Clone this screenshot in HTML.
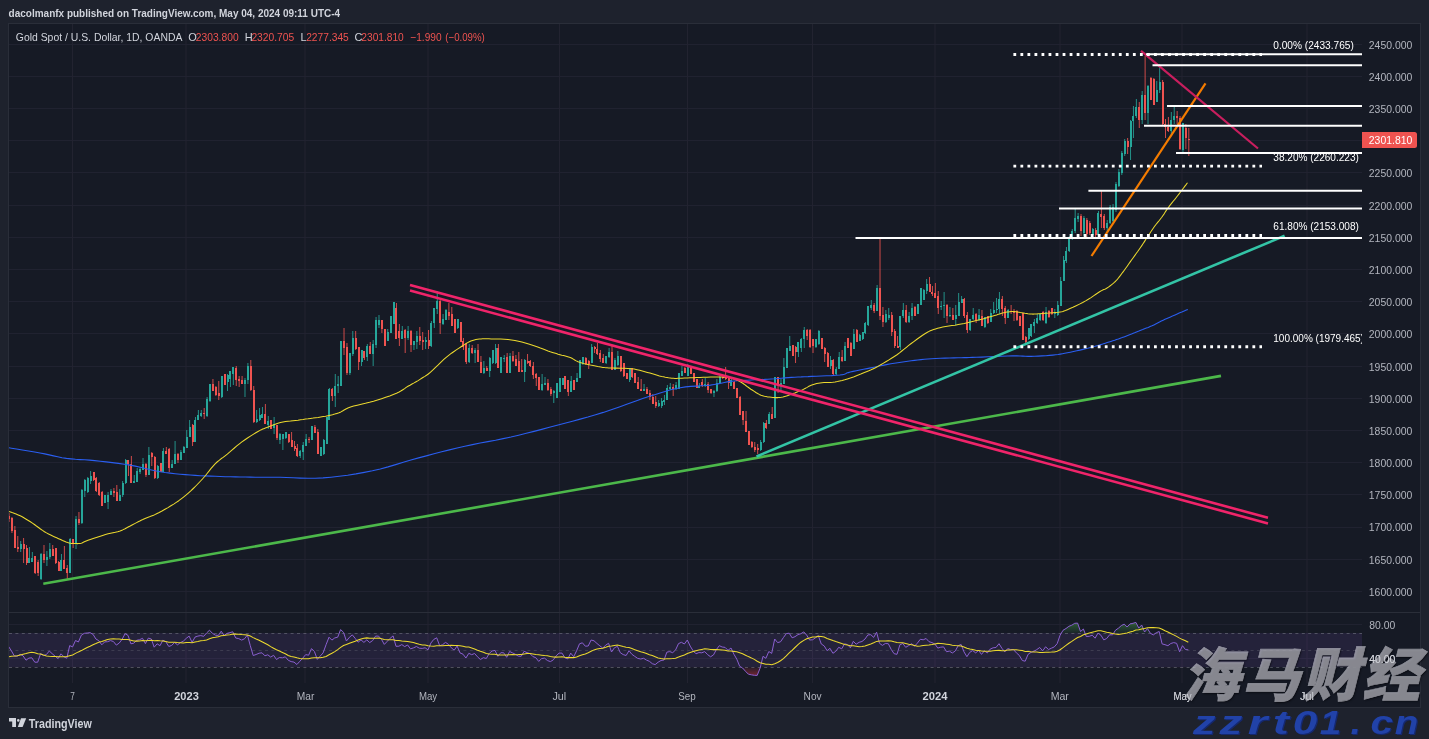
<!DOCTYPE html>
<html><head><meta charset="utf-8"><title>XAUUSD</title>
<style>
html,body{margin:0;padding:0;background:#1e222d;width:1429px;height:739px;overflow:hidden;position:relative;font-family:"Liberation Sans",Arial,sans-serif;}
.hdr{position:absolute;left:9px;top:5px;font-size:12px;color:#d1d4dc;white-space:nowrap;}
.panel{position:absolute;left:8px;top:23px;width:1411px;height:683px;border:1px solid #2a2e39;background:#161a25;}
.leg{position:absolute;left:16px;top:30px;font-size:12px;color:#d1d4dc;white-space:nowrap;}
.leg .r{color:#ef5350}
text{font-family:"Liberation Sans",Arial,sans-serif;}
.fl{font-size:10px;fill:#ffffff;}

.pl{font-size:11px;fill:#b2b5be;}
.tl{font-size:11px;fill:#b2b5be;}
.tl.b{font-weight:bold;fill:#d1d4dc}
.tv{position:absolute;left:29px;top:716px;font-size:12px;color:#d1d4dc;font-weight:bold;}
.wm{position:absolute;left:1187px;top:646.5px;font-family:"Liberation Sans","Noto Sans CJK SC",sans-serif;font-weight:900;font-size:58px;color:#838388;-webkit-text-stroke:0.7px #838388;mix-blend-mode:screen;transform:skewX(-14deg);letter-spacing:2px;white-space:nowrap;line-height:1;}
.wm.ws{color:transparent;-webkit-text-stroke:0;mix-blend-mode:normal;text-shadow:1px 1px 2px rgba(5,7,12,0.9);}
.wu{position:absolute;left:1195px;top:706px;font-family:"Liberation Sans",Arial,sans-serif;font-weight:bold;font-style:italic;font-size:31px;color:#1f43ad;letter-spacing:11px;white-space:nowrap;line-height:1;}
</style></head><body>
<div class="panel"></div>
<svg width="1429" height="739" viewBox="0 0 1429 739" style="position:absolute;left:0;top:0">
<defs><clipPath id="cm"><rect x="9" y="24" width="1353" height="588"/></clipPath><clipPath id="cr"><rect x="9" y="613" width="1353" height="70"/></clipPath></defs>
<path d="M9 591.5H1362 M9 559.5H1362 M9 527.5H1362 M9 494.5H1362 M9 462.5H1362 M9 430.5H1362 M9 398.5H1362 M9 366.5H1362 M9 333.5H1362 M9 301.5H1362 M9 269.5H1362 M9 237.5H1362 M9 205.5H1362 M9 172.5H1362 M9 140.5H1362 M9 108.5H1362 M9 76.5H1362 M9 44.5H1362 M9 624.5H1362 M9 658.5H1362" stroke="#202230" stroke-width="1" fill="none"/>
<path d="M72.5 24V683 M186.0 24V683 M305.0 24V683 M428.0 24V683 M559.5 24V683 M687.5 24V683 M812.5 24V683 M935.0 24V683 M1060.0 24V683 M1182.0 24V683 M1307.0 24V683" stroke="#222330" stroke-width="1" fill="none"/>
<g clip-path="url(#cm)">
<path d="M20.69 541V552M29.43 547V563M32.34 552V562M41.08 553V580M46.9 551V566M49.82 543V559M61.47 554V571M70.21 538V573M76.03 516V549M81.86 489V524M84.77 479V497M87.69 477V493M90.6 471V484M105.16 495V503M108.08 492V509M110.99 489V495M119.73 489V501M122.64 481V497M125.56 459V484M134.29 475V483M137.21 468V482M140.12 467V474M143.03 458V470M148.86 447V475M157.6 465V479M163.42 448V472M172.16 460V468M175.08 441V464M180.9 450V460M183.82 446V453M186.73 430V448M189.64 420V437M195.47 417V442M198.38 410V420M201.29 410V417M207.12 397V417M210.03 384V402M221.68 376V398M227.51 374V391M230.42 371V387M233.34 367V385M244.99 378V397M247.9 363V384M256.64 410V423M259.55 408V421M262.47 407V418M268.29 416V429M274.12 417V434M279.94 433V444M282.86 434V450M285.77 432V439M300.34 450V458M303.25 442V460M306.16 434V446M311.99 426V440M320.73 447V456M323.64 439V455M326.55 417V444M329.47 388V420M335.29 374V407M338.2 376V393M341.12 341V386M349.86 353V375M352.77 331V356M361.51 350V366M367.33 344V361M373.16 340V366M376.07 317V348M378.99 315V328M387.73 329V341M390.64 316V333M393.55 302V324M402.29 326V339M408.12 326V340M413.94 341V350M416.86 331V349M425.59 337V349M431.42 321V347M434.33 308V328M437.25 291V314M443.07 314V325M445.99 309V320M457.64 319V329M469.29 344V363M475.12 348V363M483.85 361V374M489.68 357V377M492.59 350V364M495.51 344V364M501.33 357V373M504.25 355V362M510.07 353V373M524.64 359V382M542.11 374V391M545.03 377V385M553.77 390V403M556.68 383V398M559.59 378V392M562.5 378V385M571.24 376V392M577.07 373V382M579.98 360V378M582.9 357V365M591.63 344V363M606.2 356V364M609.11 348V358M614.94 358V370M617.85 351V366M629.5 368V382M644.07 384V391M658.63 400V407M661.55 398V408M664.46 395V405M667.37 385V400M670.29 383V390M676.11 382V390M679.02 373V389M681.94 366V376M687.76 364V376M699.42 383V388M705.24 378V387M713.98 390V397M716.89 379V392M719.81 376V383M731.46 379V386M760.59 440V451M763.5 422V443M769.33 412V424M775.15 377V418M780.98 379V390M783.89 358V384M786.81 348V368M789.72 336V351M798.46 342V357M801.37 338V352M804.28 327V348M815.94 339V348M818.85 330V345M830.5 356V369M836.33 367V375M839.24 352V369M845.07 342V361M853.8 329V349M859.63 334V341M862.54 332V340M865.46 322V334M868.37 306V326M871.28 300V310M877.11 285V311M885.85 310V323M888.76 308V320M900.41 316V350M903.33 303V318M909.15 312V323M912.07 303V320M917.89 304V314M920.8 288V305M923.72 289V300M926.63 279V294M941.19 301V310M944.11 292V318M949.93 307V317M955.76 305V325M958.67 293V316M961.59 296V303M970.32 319V331M973.24 308V320M979.06 309V321M984.89 317V328M990.72 309V322M993.63 302V314M996.54 298V313M999.45 292V314M1008.19 309V318M1028.59 328V340M1031.5 324V337M1034.41 319V333M1037.32 314V324M1040.24 313V321M1046.06 307V324M1054.8 309V318M1057.71 301V316M1060.63 277V306M1063.54 256V281M1066.45 247V263M1069.37 236V252M1072.28 229V240M1075.19 209V233M1078.11 213V222M1083.93 216V236M1092.67 228V239M1098.5 211V237M1107.24 220V232M1110.15 205V224M1113.06 204V222M1115.97 182V212M1118.89 169V187M1121.8 151V175M1124.71 139V156M1130.54 120V160M1133.45 106V138M1136.37 99V118M1142.19 91V124M1148.02 85V124M1156.76 81V102M1159.67 64V93M1171.32 112V135M1174.23 107V124M1182.97 123V152" stroke="#26a69a" stroke-width="1" fill="none" opacity="0.85"/>
<path d="M9.04 513V522M11.95 517V533M14.86 526V548M17.77 536V552M23.6 538V563M26.51 545V565M35.25 556V574M38.16 560V576M43.99 545V563M52.73 545V556M55.64 548V564M58.56 561V571M64.38 546V569M67.3 565V580M73.12 539V548M78.95 512V525M93.51 472V481M96.42 477V492M99.34 482V496M102.25 491V506M113.9 488V497M116.82 485V501M128.47 460V476M131.38 456V483M145.95 463V477M151.77 452V466M154.68 456V479M160.51 463V472M166.34 447V454M169.25 448V472M177.99 453V463M192.55 424V446M204.21 408V419M212.95 379V391M215.86 386V396M218.77 381V400M224.6 374V385M236.25 366V386M239.16 376V387M242.08 376V384M250.81 360V391M253.73 386V423M265.38 404V424M271.21 420V429M277.03 425V440M288.68 434V443M291.6 432V447M294.51 441V451M297.42 444V457M309.07 437V443M314.9 425V433M317.81 429V454M332.38 388V401M344.03 328V355M346.94 343V375M355.68 331V350M358.6 347V370M364.42 351V360M370.25 342V354M381.9 320V333M384.81 329V346M396.46 303V339M399.38 324V346M405.2 329V353M411.03 330V352M419.77 327V345M422.68 332V350M428.51 330V349M440.16 300V334M448.9 303V320M451.81 307V326M454.72 319V333M460.55 322V342M463.46 338V350M466.38 343V364M472.2 345V354M478.03 344V362M480.94 356V373M486.77 366V371M498.42 344V368M507.16 353V373M512.98 351V362M515.9 355V366M518.81 352V372M521.72 359V372M527.55 354V364M530.46 360V367M533.38 362V379M536.29 373V386M539.2 377V390M547.94 379V391M550.85 387V396M565.42 376V389M568.33 380V396M574.16 380V390M585.81 357V365M588.72 360V369M594.55 346V353M597.46 343V355M600.37 350V362M603.29 354V363M612.03 346V370M620.76 356V372M623.68 363V377M626.59 373V379M632.42 368V378M635.33 373V383M638.24 377V389M641.16 379V391M646.98 387V394M649.89 390V400M652.81 394V404M655.72 396V408M673.2 384V396M684.85 367V373M690.68 368V374M693.59 373V382M696.5 379V388M702.33 379V387M708.15 382V393M711.07 389V394M722.72 375V379M725.63 367V380M728.55 378V389M734.37 381V389M737.28 388V398M740.2 396V415M743.11 411V425M746.02 411V432M748.94 431V445M751.85 441V448M754.76 442V452M757.68 444V454M766.41 420V429M772.24 407V419M778.07 377V393M792.63 345V356M795.54 346V363M807.2 329V340M810.11 329V348M813.02 339V353M821.76 338V349M824.67 347V362M827.59 352V367M833.41 359V375M842.15 350V362M847.98 338V348M850.89 342V356M856.72 329V342M874.2 303V313M880.02 238V320M882.93 307V327M891.67 312V336M894.59 329V348M897.5 336V348M906.24 305V323M914.98 306V316M929.54 277V292M932.46 286V296M935.37 283V298M938.28 291V314M947.02 304V323M952.85 308V320M964.5 298V318M967.41 312V333M976.15 313V323M981.98 310V326M987.8 316V324M1002.37 296V316M1005.28 306V324M1011.11 305V314M1014.02 309V321M1016.93 310V321M1019.85 316V326M1022.76 313V340M1025.67 336V344M1043.15 311V321M1048.98 310V318M1051.89 308V315M1081.02 214V236M1086.85 218V237M1089.76 221V235M1095.58 228V238M1101.41 190V228M1104.32 214V230M1127.63 138V154M1139.28 102V128M1145.11 56V120M1150.93 77V100M1153.84 78V105M1162.58 80V125M1165.5 119V138M1168.41 117V132M1177.15 111V124M1180.06 116V150M1185.89 124V149M1188.8 128V156" stroke="#ef5350" stroke-width="1" fill="none" opacity="0.85"/>
<path d="M20 544h2V549h-2ZM28 558h2V563h-2ZM31 558h2V562h-2ZM40 554h2V579h-2ZM46 557h2V560h-2ZM49 549h2V557h-2ZM60 560h2V571h-2ZM69 539h2V573h-2ZM75 519h2V543h-2ZM81 490h2V523h-2ZM84 480h2V491h-2ZM87 478h2V492h-2ZM90 476h2V481h-2ZM104 495h2V503h-2ZM107 495h2V502h-2ZM110 491h2V495h-2ZM119 495h2V501h-2ZM122 483h2V495h-2ZM125 460h2V483h-2ZM133 481h2V483h-2ZM136 471h2V482h-2ZM139 469h2V472h-2ZM142 464h2V470h-2ZM148 455h2V475h-2ZM157 466h2V478h-2ZM162 451h2V472h-2ZM171 464h2V468h-2ZM174 454h2V464h-2ZM180 452h2V460h-2ZM183 447h2V453h-2ZM186 437h2V448h-2ZM189 427h2V437h-2ZM194 420h2V442h-2ZM197 415h2V420h-2ZM200 413h2V416h-2ZM206 399h2V416h-2ZM209 384h2V401h-2ZM221 376h2V397h-2ZM227 375h2V382h-2ZM229 371h2V379h-2ZM232 367h2V374h-2ZM244 380h2V384h-2ZM247 366h2V380h-2ZM256 419h2V422h-2ZM259 415h2V420h-2ZM261 414h2V418h-2ZM267 421h2V425h-2ZM273 424h2V428h-2ZM279 434h2V440h-2ZM282 434h2V439h-2ZM285 432h2V438h-2ZM299 451h2V456h-2ZM302 445h2V452h-2ZM305 439h2V446h-2ZM311 426h2V440h-2ZM320 447h2V456h-2ZM323 440h2V454h-2ZM326 417h2V444h-2ZM328 389h2V420h-2ZM334 386h2V396h-2ZM337 384h2V386h-2ZM340 341h2V386h-2ZM349 353h2V373h-2ZM352 338h2V354h-2ZM361 350h2V362h-2ZM366 346h2V357h-2ZM372 344h2V354h-2ZM375 320h2V345h-2ZM378 320h2V325h-2ZM387 332h2V341h-2ZM390 316h2V333h-2ZM393 302h2V324h-2ZM401 331h2V339h-2ZM407 331h2V338h-2ZM413 341h2V345h-2ZM416 336h2V342h-2ZM425 340h2V342h-2ZM430 323h2V346h-2ZM433 308h2V323h-2ZM436 301h2V309h-2ZM442 319h2V324h-2ZM445 310h2V320h-2ZM457 319h2V328h-2ZM468 348h2V362h-2ZM474 350h2V353h-2ZM483 368h2V373h-2ZM489 358h2V371h-2ZM492 350h2V363h-2ZM495 348h2V363h-2ZM500 357h2V373h-2ZM503 358h2V359h-2ZM509 356h2V373h-2ZM524 360h2V372h-2ZM541 384h2V390h-2ZM544 383h2V385h-2ZM553 391h2V393h-2ZM556 383h2V398h-2ZM559 378h2V392h-2ZM562 378h2V385h-2ZM570 381h2V392h-2ZM576 378h2V382h-2ZM579 360h2V378h-2ZM582 357h2V364h-2ZM591 347h2V363h-2ZM605 356h2V363h-2ZM608 352h2V357h-2ZM614 360h2V370h-2ZM617 356h2V365h-2ZM629 368h2V380h-2ZM643 389h2V391h-2ZM658 403h2V406h-2ZM661 401h2V406h-2ZM663 400h2V402h-2ZM666 388h2V400h-2ZM669 387h2V389h-2ZM675 385h2V389h-2ZM678 373h2V389h-2ZM681 371h2V376h-2ZM687 365h2V376h-2ZM698 386h2V388h-2ZM704 384h2V386h-2ZM713 391h2V393h-2ZM716 383h2V391h-2ZM719 377h2V383h-2ZM730 380h2V386h-2ZM760 442h2V450h-2ZM763 423h2V442h-2ZM768 414h2V424h-2ZM774 377h2V418h-2ZM780 383h2V386h-2ZM783 367h2V384h-2ZM786 348h2V368h-2ZM789 346h2V351h-2ZM797 342h2V352h-2ZM800 339h2V348h-2ZM803 330h2V339h-2ZM815 339h2V347h-2ZM818 331h2V344h-2ZM830 360h2V366h-2ZM835 369h2V374h-2ZM838 357h2V369h-2ZM844 346h2V361h-2ZM853 334h2V349h-2ZM859 335h2V341h-2ZM862 332h2V339h-2ZM864 323h2V333h-2ZM867 306h2V325h-2ZM870 305h2V308h-2ZM876 288h2V311h-2ZM885 314h2V322h-2ZM888 315h2V318h-2ZM899 316h2V347h-2ZM902 310h2V316h-2ZM908 316h2V322h-2ZM911 308h2V316h-2ZM917 304h2V314h-2ZM920 288h2V305h-2ZM923 290h2V300h-2ZM926 284h2V291h-2ZM940 306h2V307h-2ZM943 305h2V306h-2ZM949 315h2V316h-2ZM955 315h2V319h-2ZM958 302h2V316h-2ZM961 299h2V303h-2ZM969 319h2V330h-2ZM972 315h2V319h-2ZM978 315h2V320h-2ZM984 317h2V327h-2ZM990 313h2V322h-2ZM993 310h2V313h-2ZM996 309h2V310h-2ZM998 299h2V309h-2ZM1007 310h2V318h-2ZM1028 328h2V339h-2ZM1030 324h2V336h-2ZM1033 322h2V326h-2ZM1036 318h2V323h-2ZM1039 314h2V320h-2ZM1045 312h2V323h-2ZM1054 312h2V314h-2ZM1057 305h2V315h-2ZM1060 281h2V306h-2ZM1063 260h2V281h-2ZM1065 251h2V261h-2ZM1068 238h2V251h-2ZM1071 231h2V238h-2ZM1074 218h2V231h-2ZM1077 216h2V219h-2ZM1083 218h2V233h-2ZM1092 229h2V235h-2ZM1097 213h2V235h-2ZM1106 223h2V228h-2ZM1109 207h2V223h-2ZM1112 207h2V221h-2ZM1115 184h2V210h-2ZM1118 172h2V186h-2ZM1121 153h2V173h-2ZM1124 141h2V154h-2ZM1130 121h2V147h-2ZM1132 116h2V121h-2ZM1135 107h2V116h-2ZM1141 95h2V120h-2ZM1147 86h2V113h-2ZM1156 90h2V102h-2ZM1159 82h2V90h-2ZM1170 120h2V131h-2ZM1173 116h2V120h-2ZM1182 123h2V150h-2Z" fill="#26a69a" shape-rendering="crispEdges"/>
<path d="M8 516h2V519h-2ZM11 518h2V531h-2ZM14 530h2V548h-2ZM17 547h2V549h-2ZM23 544h2V549h-2ZM26 548h2V563h-2ZM34 556h2V573h-2ZM37 562h2V573h-2ZM43 554h2V560h-2ZM52 549h2V556h-2ZM55 548h2V563h-2ZM58 562h2V571h-2ZM63 560h2V569h-2ZM66 568h2V573h-2ZM72 539h2V543h-2ZM78 519h2V523h-2ZM93 472h2V480h-2ZM95 478h2V491h-2ZM98 483h2V495h-2ZM101 492h2V506h-2ZM113 491h2V493h-2ZM116 492h2V501h-2ZM127 460h2V464h-2ZM130 464h2V483h-2ZM145 464h2V475h-2ZM151 453h2V457h-2ZM154 457h2V478h-2ZM160 463h2V472h-2ZM165 451h2V454h-2ZM168 449h2V468h-2ZM177 454h2V460h-2ZM192 425h2V442h-2ZM203 413h2V414h-2ZM212 384h2V391h-2ZM215 387h2V395h-2ZM218 393h2V396h-2ZM224 374h2V385h-2ZM235 368h2V380h-2ZM238 379h2V381h-2ZM241 380h2V384h-2ZM250 366h2V390h-2ZM253 390h2V422h-2ZM264 414h2V424h-2ZM270 420h2V429h-2ZM276 425h2V438h-2ZM288 434h2V442h-2ZM291 440h2V447h-2ZM294 446h2V449h-2ZM296 448h2V456h-2ZM308 439h2V440h-2ZM314 427h2V433h-2ZM317 432h2V454h-2ZM331 389h2V396h-2ZM343 341h2V348h-2ZM346 347h2V373h-2ZM355 338h2V349h-2ZM358 347h2V362h-2ZM363 351h2V358h-2ZM369 346h2V354h-2ZM381 320h2V329h-2ZM384 329h2V346h-2ZM395 308h2V339h-2ZM398 331h2V338h-2ZM404 330h2V338h-2ZM410 331h2V345h-2ZM419 336h2V341h-2ZM422 340h2V342h-2ZM428 340h2V346h-2ZM439 301h2V323h-2ZM448 312h2V316h-2ZM451 314h2V326h-2ZM454 319h2V333h-2ZM460 322h2V342h-2ZM462 341h2V347h-2ZM465 344h2V362h-2ZM471 348h2V353h-2ZM477 350h2V362h-2ZM480 362h2V373h-2ZM486 368h2V371h-2ZM497 348h2V368h-2ZM506 357h2V373h-2ZM512 356h2V361h-2ZM515 359h2V366h-2ZM518 361h2V372h-2ZM521 370h2V372h-2ZM527 361h2V363h-2ZM529 361h2V366h-2ZM532 366h2V375h-2ZM535 374h2V378h-2ZM538 377h2V390h-2ZM547 383h2V390h-2ZM550 389h2V394h-2ZM564 376h2V389h-2ZM567 380h2V392h-2ZM573 380h2V390h-2ZM585 358h2V364h-2ZM588 361h2V364h-2ZM594 347h2V349h-2ZM596 349h2V354h-2ZM599 353h2V359h-2ZM602 358h2V363h-2ZM611 352h2V370h-2ZM620 356h2V371h-2ZM623 363h2V376h-2ZM626 373h2V379h-2ZM631 368h2V377h-2ZM634 373h2V383h-2ZM637 382h2V389h-2ZM640 389h2V391h-2ZM646 389h2V394h-2ZM649 393h2V397h-2ZM652 397h2V404h-2ZM655 402h2V406h-2ZM672 387h2V389h-2ZM684 368h2V373h-2ZM690 368h2V374h-2ZM693 373h2V382h-2ZM696 379h2V388h-2ZM701 382h2V386h-2ZM707 384h2V390h-2ZM710 389h2V393h-2ZM722 377h2V378h-2ZM725 377h2V379h-2ZM728 378h2V383h-2ZM733 382h2V389h-2ZM736 388h2V398h-2ZM739 397h2V415h-2ZM742 411h2V420h-2ZM745 421h2V432h-2ZM748 431h2V445h-2ZM751 442h2V447h-2ZM754 447h2V450h-2ZM757 448h2V450h-2ZM765 423h2V428h-2ZM771 414h2V419h-2ZM777 377h2V386h-2ZM792 345h2V356h-2ZM795 347h2V352h-2ZM806 330h2V336h-2ZM809 330h2V347h-2ZM812 339h2V346h-2ZM821 338h2V349h-2ZM824 348h2V354h-2ZM827 353h2V367h-2ZM832 360h2V374h-2ZM841 357h2V361h-2ZM847 338h2V348h-2ZM850 343h2V356h-2ZM856 330h2V342h-2ZM873 305h2V311h-2ZM879 288h2V316h-2ZM882 315h2V322h-2ZM891 315h2V332h-2ZM894 331h2V346h-2ZM897 346h2V348h-2ZM905 310h2V322h-2ZM914 307h2V316h-2ZM929 284h2V292h-2ZM931 292h2V294h-2ZM934 293h2V298h-2ZM937 296h2V308h-2ZM946 305h2V316h-2ZM952 315h2V320h-2ZM963 299h2V316h-2ZM966 315h2V330h-2ZM975 314h2V321h-2ZM981 316h2V326h-2ZM987 316h2V323h-2ZM1001 299h2V309h-2ZM1004 308h2V318h-2ZM1010 311h2V312h-2ZM1013 312h2V313h-2ZM1016 311h2V320h-2ZM1019 316h2V326h-2ZM1022 313h2V340h-2ZM1025 337h2V342h-2ZM1042 312h2V320h-2ZM1048 311h2V317h-2ZM1051 308h2V314h-2ZM1080 216h2V231h-2ZM1086 220h2V234h-2ZM1089 223h2V233h-2ZM1095 230h2V235h-2ZM1100 214h2V217h-2ZM1103 216h2V228h-2ZM1127 141h2V147h-2ZM1138 107h2V120h-2ZM1144 95h2V113h-2ZM1150 78h2V100h-2ZM1153 79h2V105h-2ZM1162 82h2V124h-2ZM1164 124h2V127h-2ZM1167 127h2V131h-2ZM1176 116h2V118h-2ZM1179 118h2V149h-2ZM1185 128h2V138h-2ZM1188 139h2V140h-2Z" fill="#ef5350" shape-rendering="crispEdges"/>
<path d="M8.0 447.6 L11.5 448.2 L16.5 449.0 L22.3 450.0 L28.6 451.0 L34.6 452.0 L40.0 453.0 L44.7 453.9 L49.2 454.9 L53.5 455.9 L57.7 456.8 L62.0 457.7 L66.5 458.4 L71.0 458.9 L75.5 459.3 L80.1 459.6 L84.7 459.8 L89.6 460.1 L94.7 460.6 L100.2 461.2 L106.1 461.9 L112.2 462.6 L118.4 463.4 L124.3 464.2 L130.0 465.1 L135.3 466.1 L140.4 467.3 L145.4 468.5 L150.3 469.7 L155.1 470.8 L160.1 471.7 L165.1 472.5 L170.1 473.1 L175.1 473.7 L180.2 474.2 L185.2 474.6 L190.2 475.0 L195.2 475.4 L200.2 475.7 L205.2 475.9 L210.3 476.1 L215.3 476.3 L220.3 476.5 L225.3 476.7 L230.4 476.8 L235.4 476.9 L240.4 477.0 L245.4 477.0 L250.4 477.1 L255.2 477.2 L259.8 477.2 L264.4 477.2 L269.2 477.2 L274.3 477.2 L280.0 477.3 L286.3 477.5 L293.1 477.8 L300.3 478.1 L307.8 478.3 L315.4 478.2 L323.1 477.9 L331.0 477.2 L339.2 476.3 L347.6 475.2 L356.0 473.9 L364.3 472.4 L372.4 470.8 L380.3 469.0 L388.0 466.9 L395.7 464.6 L403.3 462.3 L410.9 460.0 L418.6 457.9 L426.3 455.9 L434.0 453.8 L441.7 451.8 L449.4 449.9 L457.1 448.0 L464.8 446.2 L472.5 444.6 L480.2 443.0 L487.9 441.6 L495.5 440.2 L503.2 438.6 L510.9 437.0 L518.6 435.2 L526.3 433.3 L534.0 431.4 L541.7 429.4 L549.4 427.3 L557.1 425.3 L564.8 423.3 L572.5 421.2 L580.2 419.1 L587.9 417.0 L595.6 414.7 L603.3 412.4 L611.2 409.8 L619.3 407.0 L627.4 404.1 L635.2 401.2 L642.7 398.6 L649.5 396.3 L655.5 394.4 L660.9 392.7 L665.9 391.2 L670.7 389.8 L675.4 388.7 L680.3 387.7 L685.5 386.9 L690.7 386.4 L696.0 386.1 L701.0 385.8 L705.9 385.5 L710.3 385.1 L714.2 384.5 L717.8 383.9 L721.1 383.2 L724.2 382.5 L727.3 381.9 L730.6 381.4 L734.0 381.0 L737.4 380.7 L740.8 380.5 L744.1 380.4 L747.5 380.2 L750.9 380.0 L754.3 379.8 L757.7 379.7 L761.0 379.5 L764.4 379.4 L767.8 379.2 L771.2 379.0 L774.6 378.8 L778.0 378.5 L781.4 378.2 L784.7 377.9 L788.1 377.6 L791.5 377.4 L794.8 377.2 L798.0 377.0 L801.2 376.9 L804.4 376.7 L808.0 376.6 L811.8 376.4 L816.2 376.2 L821.3 376.0 L826.5 375.8 L831.6 375.6 L836.2 375.3 L840.0 375.0 L842.6 374.6 L844.4 374.2 L845.6 373.7 L846.8 373.1 L848.2 372.6 L850.3 372.0 L853.1 371.4 L856.3 370.7 L859.8 370.0 L863.5 369.3 L867.1 368.6 L870.6 367.9 L874.0 367.2 L877.4 366.5 L880.8 365.8 L884.1 365.1 L887.5 364.4 L890.9 363.8 L894.3 363.2 L897.7 362.7 L901.0 362.2 L904.4 361.7 L907.8 361.2 L911.2 360.8 L914.5 360.4 L917.7 360.0 L921.0 359.6 L924.3 359.3 L927.8 359.0 L931.5 358.7 L935.7 358.5 L940.2 358.3 L944.9 358.1 L949.5 358.0 L954.0 357.9 L958.0 357.8 L961.3 357.7 L964.1 357.6 L966.6 357.6 L969.2 357.5 L972.4 357.4 L976.4 357.3 L981.6 357.1 L987.9 356.8 L994.6 356.5 L1001.3 356.3 L1007.6 356.0 L1012.8 355.9 L1016.8 355.9 L1020.1 356.0 L1022.8 356.1 L1025.3 356.3 L1028.0 356.4 L1031.0 356.4 L1034.5 356.3 L1038.3 356.1 L1042.1 355.9 L1045.9 355.7 L1049.5 355.4 L1052.8 355.1 L1055.6 354.8 L1058.1 354.5 L1060.3 354.1 L1062.5 353.7 L1064.8 353.3 L1067.4 352.8 L1070.3 352.2 L1073.5 351.5 L1076.8 350.8 L1080.0 350.1 L1083.0 349.4 L1085.6 348.8 L1087.8 348.3 L1089.6 347.8 L1091.2 347.4 L1092.8 346.9 L1094.3 346.5 L1096.0 346.0 L1097.8 345.5 L1099.7 344.9 L1101.6 344.4 L1103.4 343.8 L1105.3 343.2 L1107.2 342.6 L1109.1 342.0 L1110.9 341.4 L1112.8 340.8 L1114.7 340.2 L1116.5 339.5 L1118.4 338.9 L1120.3 338.2 L1122.1 337.6 L1124.0 336.9 L1125.9 336.2 L1127.7 335.5 L1129.6 334.8 L1131.5 334.1 L1133.3 333.3 L1135.2 332.6 L1137.1 331.8 L1138.9 331.1 L1140.8 330.3 L1142.7 329.6 L1144.5 328.8 L1146.4 328.1 L1148.3 327.4 L1150.1 326.6 L1152.0 325.8 L1153.9 324.9 L1155.7 324.0 L1157.6 323.0 L1159.5 322.1 L1161.3 321.1 L1163.2 320.2 L1165.0 319.3 L1166.9 318.5 L1168.7 317.7 L1170.5 316.9 L1172.4 316.1 L1174.4 315.2 L1176.7 314.2 L1179.2 313.1 L1181.8 312.0 L1184.2 310.9 L1186.3 310.0 L1187.8 309.4" stroke="#2a5ef0" stroke-width="1.1" fill="none" stroke-linejoin="round"/>
<path d="M8.0 511.5 L8.0 511.5 L7.9 511.4 L7.9 511.3 L8.0 511.3 L8.4 511.3 L9.2 511.6 L10.5 512.0 L12.1 512.6 L14.0 513.2 L16.1 514.0 L18.2 514.9 L20.2 515.8 L22.2 516.8 L24.2 518.0 L26.2 519.2 L28.3 520.5 L30.4 521.8 L32.4 523.1 L34.4 524.5 L36.4 526.0 L38.5 527.5 L40.5 529.0 L42.5 530.4 L44.5 531.7 L46.5 532.9 L48.6 534.0 L50.7 535.0 L52.7 536.0 L54.7 536.9 L56.7 537.8 L58.6 538.7 L60.6 539.6 L62.5 540.5 L64.4 541.3 L66.1 542.0 L67.7 542.6 L69.1 543.0 L70.5 543.2 L71.7 543.4 L72.8 543.4 L73.9 543.5 L75.0 543.5 L76.1 543.5 L77.1 543.6 L78.0 543.6 L79.0 543.5 L80.0 543.4 L81.0 543.2 L82.0 542.9 L82.9 542.5 L83.8 542.1 L84.9 541.6 L86.2 541.0 L88.0 540.3 L90.3 539.5 L93.2 538.5 L96.3 537.4 L99.5 536.4 L102.6 535.4 L105.5 534.5 L108.1 533.8 L110.6 533.3 L113.0 532.8 L115.3 532.3 L117.7 531.7 L120.1 530.9 L122.6 529.9 L125.1 528.7 L127.7 527.3 L130.2 526.0 L132.5 524.7 L134.7 523.6 L136.6 522.6 L138.2 521.8 L139.8 521.0 L141.2 520.2 L142.8 519.5 L144.5 518.7 L146.3 517.9 L148.2 517.2 L150.1 516.6 L152.1 515.8 L154.3 514.9 L156.6 513.8 L159.2 512.5 L162.0 511.0 L165.0 509.3 L168.0 507.6 L170.9 505.8 L173.7 504.1 L176.3 502.4 L178.8 500.7 L181.2 498.9 L183.5 497.1 L185.9 495.2 L188.3 493.1 L190.8 490.9 L193.3 488.5 L195.8 486.0 L198.2 483.5 L200.6 481.0 L202.9 478.5 L205.1 476.0 L207.1 473.5 L209.2 470.9 L211.1 468.4 L213.1 466.1 L215.1 463.9 L217.1 462.0 L219.1 460.4 L221.0 458.8 L223.1 457.4 L225.1 455.8 L227.3 454.1 L229.6 452.2 L231.9 450.1 L234.4 448.0 L236.8 445.9 L239.4 443.9 L241.9 441.9 L244.6 440.0 L247.5 438.0 L250.4 436.1 L253.2 434.4 L255.8 432.8 L258.0 431.5 L259.6 430.6 L260.8 429.9 L261.8 429.5 L262.7 429.1 L263.8 428.7 L265.4 428.1 L267.5 427.3 L269.9 426.3 L272.5 425.3 L275.2 424.3 L277.9 423.3 L280.5 422.6 L283.0 422.1 L285.5 421.6 L288.0 421.3 L290.5 421.1 L293.0 420.8 L295.5 420.5 L298.0 420.2 L300.5 419.8 L303.1 419.5 L305.6 419.1 L308.1 418.8 L310.6 418.4 L313.1 418.1 L315.7 417.7 L318.2 417.4 L320.7 417.0 L323.2 416.6 L325.6 416.2 L327.9 415.7 L330.3 415.2 L332.5 414.7 L334.7 414.1 L336.9 413.4 L339.0 412.7 L340.9 411.9 L342.5 411.0 L344.1 410.0 L345.9 409.0 L347.9 408.0 L350.5 407.0 L353.7 406.1 L357.3 405.2 L361.3 404.2 L365.4 403.3 L369.5 402.3 L373.5 401.2 L377.5 400.0 L381.6 398.7 L385.7 397.3 L389.7 395.9 L393.3 394.5 L396.5 393.2 L399.1 392.0 L401.2 390.8 L402.9 389.7 L404.6 388.6 L406.2 387.4 L408.0 386.3 L410.0 385.2 L412.0 384.0 L414.1 382.9 L416.1 381.7 L418.1 380.6 L420.0 379.4 L421.7 378.3 L423.3 377.3 L424.9 376.4 L426.5 375.3 L428.3 374.0 L430.3 372.3 L432.7 370.2 L435.3 367.6 L438.2 364.9 L441.0 362.1 L443.8 359.4 L446.5 357.1 L449.0 355.1 L451.5 353.2 L454.0 351.5 L456.3 349.9 L458.6 348.4 L460.7 347.0 L462.6 345.7 L464.4 344.6 L466.1 343.5 L467.7 342.6 L469.3 341.7 L470.9 341.0 L472.6 340.4 L474.3 339.9 L475.9 339.6 L477.6 339.3 L479.3 339.1 L481.0 338.9 L482.6 338.8 L484.0 338.7 L485.5 338.7 L487.0 338.7 L488.9 338.8 L491.2 338.9 L494.0 339.0 L497.2 339.0 L500.7 339.1 L504.4 339.2 L508.0 339.5 L511.5 339.9 L514.9 340.5 L518.4 341.3 L521.9 342.1 L525.3 343.1 L528.7 344.1 L531.8 345.0 L534.8 346.0 L537.7 347.0 L540.4 348.1 L543.1 349.1 L545.6 350.1 L548.0 351.0 L550.3 351.8 L552.4 352.4 L554.4 353.0 L556.3 353.6 L558.1 354.2 L560.0 354.7 L561.8 355.2 L563.6 355.6 L565.3 356.0 L566.9 356.4 L568.6 356.9 L570.3 357.5 L571.9 358.2 L573.3 359.1 L574.7 360.0 L576.3 360.9 L578.1 361.8 L580.4 362.6 L583.3 363.4 L586.8 364.2 L590.5 365.1 L594.3 365.8 L597.8 366.5 L600.7 367.0 L602.9 367.4 L604.5 367.6 L605.8 367.7 L607.1 367.8 L608.7 367.9 L610.9 368.0 L613.7 368.1 L617.1 368.1 L620.7 368.2 L624.4 368.3 L627.9 368.4 L631.2 368.7 L634.2 369.1 L637.0 369.7 L639.7 370.3 L642.3 371.0 L644.9 371.7 L647.4 372.4 L649.9 373.1 L652.4 373.8 L654.9 374.5 L657.2 375.2 L659.5 375.9 L661.6 376.4 L663.5 376.8 L665.3 377.2 L667.0 377.5 L668.5 377.8 L670.1 378.0 L671.8 378.2 L673.4 378.3 L674.9 378.4 L676.4 378.4 L678.0 378.3 L679.8 378.3 L682.0 378.2 L684.5 378.1 L687.3 378.0 L690.4 377.8 L693.5 377.7 L696.8 377.5 L700.0 377.4 L703.4 377.3 L707.0 377.2 L710.7 377.1 L714.3 377.0 L717.6 377.0 L720.4 377.0 L722.7 377.1 L724.6 377.1 L726.1 377.2 L727.6 377.4 L729.0 377.6 L730.6 378.0 L732.3 378.5 L734.0 379.0 L735.7 379.6 L737.3 380.3 L739.0 381.1 L740.7 382.0 L742.4 383.0 L744.1 384.2 L745.8 385.5 L747.5 386.8 L749.2 388.0 L750.9 389.2 L752.6 390.3 L754.3 391.4 L755.9 392.5 L757.6 393.5 L759.3 394.4 L761.0 395.2 L762.7 395.8 L764.4 396.3 L766.1 396.6 L767.8 396.9 L769.5 397.1 L771.2 397.3 L772.9 397.5 L774.6 397.6 L776.3 397.6 L777.9 397.6 L779.6 397.5 L781.3 397.3 L783.0 397.0 L784.7 396.5 L786.4 396.0 L788.1 395.4 L789.8 394.8 L791.5 394.2 L793.2 393.6 L794.9 393.0 L796.5 392.3 L798.2 391.6 L799.9 390.9 L801.6 390.2 L803.3 389.4 L805.0 388.5 L806.7 387.6 L808.4 386.6 L810.1 385.8 L811.8 385.1 L813.5 384.5 L815.1 384.0 L816.7 383.6 L818.4 383.3 L820.1 383.0 L822.0 382.7 L824.0 382.5 L826.0 382.5 L828.2 382.4 L830.4 382.4 L832.7 382.3 L835.0 382.0 L837.4 381.6 L839.7 381.1 L842.2 380.5 L844.7 379.8 L847.4 378.9 L850.3 378.0 L853.5 376.9 L857.1 375.5 L860.8 374.1 L864.4 372.6 L867.7 371.2 L870.6 370.0 L872.8 369.0 L874.5 368.2 L875.9 367.5 L877.3 366.8 L878.8 365.9 L880.7 364.8 L883.1 363.4 L885.8 361.8 L888.6 360.1 L891.5 358.3 L894.3 356.5 L897.0 354.7 L899.5 352.9 L901.8 351.0 L904.1 349.2 L906.4 347.3 L908.7 345.4 L911.2 343.5 L913.8 341.6 L916.6 339.5 L919.4 337.5 L922.2 335.5 L924.9 333.8 L927.4 332.3 L929.6 331.1 L931.7 330.2 L933.6 329.5 L935.5 328.9 L937.6 328.3 L940.0 327.7 L942.7 327.1 L945.7 326.6 L948.8 326.1 L951.9 325.6 L955.1 325.2 L958.2 324.6 L961.2 324.0 L964.3 323.4 L967.3 322.7 L970.3 322.0 L973.4 321.3 L976.4 320.6 L979.5 319.8 L982.8 318.9 L986.1 318.0 L989.2 317.1 L992.1 316.2 L994.6 315.5 L996.6 314.9 L998.3 314.3 L999.7 313.9 L1001.0 313.4 L1002.3 313.0 L1003.7 312.7 L1005.2 312.4 L1006.7 312.1 L1008.2 311.9 L1009.8 311.7 L1011.3 311.5 L1012.8 311.5 L1014.3 311.6 L1015.8 311.7 L1017.3 311.9 L1018.9 312.2 L1020.4 312.5 L1021.9 312.7 L1023.4 312.9 L1024.9 313.2 L1026.5 313.4 L1028.0 313.7 L1029.5 313.9 L1031.0 314.0 L1032.4 314.1 L1033.7 314.1 L1035.0 314.0 L1036.4 313.9 L1038.1 313.8 L1040.1 313.7 L1042.7 313.5 L1045.8 313.3 L1049.2 313.1 L1052.6 312.8 L1055.7 312.5 L1058.3 312.2 L1060.2 311.9 L1061.7 311.7 L1062.9 311.4 L1064.0 311.0 L1065.5 310.5 L1067.4 309.7 L1070.0 308.6 L1072.9 307.3 L1076.2 305.7 L1079.5 304.1 L1082.7 302.5 L1085.6 300.9 L1088.3 299.3 L1091.0 297.6 L1093.5 295.9 L1095.9 294.2 L1098.1 292.7 L1100.0 291.5 L1101.6 290.6 L1102.8 290.0 L1103.8 289.6 L1104.8 289.2 L1105.8 288.7 L1107.0 288.0 L1108.4 287.1 L1109.9 286.0 L1111.4 284.8 L1112.9 283.6 L1114.4 282.3 L1115.8 281.0 L1117.1 279.7 L1118.2 278.3 L1119.3 276.9 L1120.5 275.4 L1121.6 273.8 L1122.9 272.1 L1124.3 270.2 L1125.7 268.3 L1127.2 266.2 L1128.7 264.0 L1130.2 261.9 L1131.7 259.8 L1133.2 257.7 L1134.7 255.6 L1136.2 253.5 L1137.7 251.5 L1139.1 249.5 L1140.5 247.5 L1141.8 245.6 L1143.0 243.8 L1144.1 242.1 L1145.2 240.4 L1146.3 238.6 L1147.5 236.9 L1148.7 235.1 L1149.9 233.3 L1151.0 231.5 L1152.2 229.7 L1153.4 228.0 L1154.6 226.3 L1155.8 224.7 L1156.9 223.3 L1158.1 221.9 L1159.3 220.5 L1160.4 219.0 L1161.6 217.5 L1162.8 215.8 L1164.0 214.1 L1165.1 212.3 L1166.3 210.4 L1167.5 208.7 L1168.7 207.0 L1169.9 205.4 L1171.1 203.9 L1172.3 202.4 L1173.4 201.0 L1174.6 199.6 L1175.7 198.2 L1176.8 196.8 L1177.8 195.5 L1178.9 194.1 L1179.9 192.8 L1180.9 191.5 L1181.9 190.2 L1182.9 188.8 L1184.0 187.4 L1185.1 185.9 L1186.1 184.6 L1186.9 183.5 L1187.5 182.7" stroke="#ecd92e" stroke-width="1.05" fill="none" stroke-linejoin="round"/>
<g stroke-linecap="butt" fill="none">
<line x1="43.3" y1="583.8" x2="1221" y2="375.9" stroke="#4cb84a" stroke-width="2.6"/>
<line x1="756.5" y1="456.5" x2="1284.6" y2="235.8" stroke="#33c4a6" stroke-width="2.6"/>
<line x1="410" y1="285" x2="1268" y2="517.8" stroke="#f0246a" stroke-width="2.6"/>
<line x1="410" y1="290.6" x2="1268" y2="523.4" stroke="#f0246a" stroke-width="2.6"/>
<line x1="1091.5" y1="256" x2="1205.5" y2="83.4" stroke="#f57c00" stroke-width="2.2"/>
<line x1="1141" y1="50.8" x2="1258" y2="148.5" stroke="#c81e5e" stroke-width="2.2"/>
</g>
<line x1="1146" y1="54.2" x2="1362" y2="54.2" stroke="#ffffff" stroke-width="2"/>
<line x1="1152.5" y1="65.3" x2="1362" y2="65.3" stroke="#ffffff" stroke-width="2"/>
<line x1="1167" y1="106" x2="1362" y2="106" stroke="#ffffff" stroke-width="2"/>
<line x1="1144" y1="125.8" x2="1362" y2="125.8" stroke="#ffffff" stroke-width="2"/>
<line x1="1176" y1="152.9" x2="1362" y2="152.9" stroke="#ffffff" stroke-width="2"/>
<line x1="1088.4" y1="190.8" x2="1362" y2="190.8" stroke="#ffffff" stroke-width="2"/>
<line x1="1059" y1="208.6" x2="1362" y2="208.6" stroke="#ffffff" stroke-width="2"/>
<line x1="855.5" y1="237.9" x2="1362" y2="237.9" stroke="#ffffff" stroke-width="2"/>
<line x1="1013.4" y1="54.5" x2="1262" y2="54.5" stroke="#ffffff" stroke-width="2.9" stroke-dasharray="2.8 4.23"/>
<line x1="1013.4" y1="166.1" x2="1262" y2="166.1" stroke="#ffffff" stroke-width="2.9" stroke-dasharray="2.8 4.23"/>
<line x1="1013.4" y1="235.5" x2="1262" y2="235.5" stroke="#ffffff" stroke-width="2.9" stroke-dasharray="2.8 4.23"/>
<line x1="1013.4" y1="346.8" x2="1262" y2="346.8" stroke="#ffffff" stroke-width="2.9" stroke-dasharray="2.8 4.23"/>
</g>
<text x="1273.3" y="48.9" font-size="10" fill="#ffffff" class="fl" textLength="80.5" lengthAdjust="spacingAndGlyphs">0.00% (2433.765)</text>
<text x="1273.3" y="160.8" font-size="10" fill="#ffffff" class="fl" textLength="85.6" lengthAdjust="spacingAndGlyphs">38.20% (2260.223)</text>
<text x="1273.3" y="229.6" font-size="10" fill="#ffffff" class="fl" textLength="85.6" lengthAdjust="spacingAndGlyphs">61.80% (2153.008)</text>
<text x="1273.3" y="341.6" font-size="10" fill="#ffffff" class="fl">100.00% (1979.465)</text>
<rect x="1362" y="24" width="58" height="588" fill="#161a25"/>
<text x="1368.8" y="595.8" font-size="11" fill="#b2b5be" textLength="43.5" lengthAdjust="spacingAndGlyphs">1600.000</text>
<text x="1368.8" y="563.6" font-size="11" fill="#b2b5be" textLength="43.5" lengthAdjust="spacingAndGlyphs">1650.000</text>
<text x="1368.8" y="531.4" font-size="11" fill="#b2b5be" textLength="43.5" lengthAdjust="spacingAndGlyphs">1700.000</text>
<text x="1368.8" y="499.2" font-size="11" fill="#b2b5be" textLength="43.5" lengthAdjust="spacingAndGlyphs">1750.000</text>
<text x="1368.8" y="467.0" font-size="11" fill="#b2b5be" textLength="43.5" lengthAdjust="spacingAndGlyphs">1800.000</text>
<text x="1368.8" y="434.8" font-size="11" fill="#b2b5be" textLength="43.5" lengthAdjust="spacingAndGlyphs">1850.000</text>
<text x="1368.8" y="402.7" font-size="11" fill="#b2b5be" textLength="43.5" lengthAdjust="spacingAndGlyphs">1900.000</text>
<text x="1368.8" y="370.5" font-size="11" fill="#b2b5be" textLength="43.5" lengthAdjust="spacingAndGlyphs">1950.000</text>
<text x="1368.8" y="338.3" font-size="11" fill="#b2b5be" textLength="43.5" lengthAdjust="spacingAndGlyphs">2000.000</text>
<text x="1368.8" y="306.1" font-size="11" fill="#b2b5be" textLength="43.5" lengthAdjust="spacingAndGlyphs">2050.000</text>
<text x="1368.8" y="273.9" font-size="11" fill="#b2b5be" textLength="43.5" lengthAdjust="spacingAndGlyphs">2100.000</text>
<text x="1368.8" y="241.7" font-size="11" fill="#b2b5be" textLength="43.5" lengthAdjust="spacingAndGlyphs">2150.000</text>
<text x="1368.8" y="209.5" font-size="11" fill="#b2b5be" textLength="43.5" lengthAdjust="spacingAndGlyphs">2200.000</text>
<text x="1368.8" y="177.3" font-size="11" fill="#b2b5be" textLength="43.5" lengthAdjust="spacingAndGlyphs">2250.000</text>
<text x="1368.8" y="112.9" font-size="11" fill="#b2b5be" textLength="43.5" lengthAdjust="spacingAndGlyphs">2350.000</text>
<text x="1368.8" y="80.7" font-size="11" fill="#b2b5be" textLength="43.5" lengthAdjust="spacingAndGlyphs">2400.000</text>
<text x="1368.8" y="48.5" font-size="11" fill="#b2b5be" textLength="43.5" lengthAdjust="spacingAndGlyphs">2450.000</text>
<path d="M1362 132H1414.5Q1417 132 1417 134.5V145.5Q1417 148 1414.5 148H1362Z" fill="#ef5350"/>
<text x="1368.8" y="143.9" font-size="11" fill="#ffffff" textLength="43.5" lengthAdjust="spacingAndGlyphs">2301.810</text>
<g clip-path="url(#cr)">
<rect x="9" y="633.0" width="1353" height="34.2" fill="#7e57c2" fill-opacity="0.14"/>
<line x1="9" y1="633.5" x2="1362" y2="633.5" stroke="#787b86" stroke-opacity="0.55" stroke-width="1" stroke-dasharray="3 3.4"/>
<line x1="9" y1="650.5" x2="1362" y2="650.5" stroke="#787b86" stroke-opacity="0.3" stroke-width="1" stroke-dasharray="3 3.4"/>
<line x1="9" y1="667.5" x2="1362" y2="667.5" stroke="#787b86" stroke-opacity="0.55" stroke-width="1" stroke-dasharray="3 3.4"/>
<defs><linearGradient id="gg" x1="0" y1="619.0" x2="0" y2="633.0" gradientUnits="userSpaceOnUse"><stop offset="0" stop-color="#4caf50" stop-opacity="0.55"/><stop offset="1" stop-color="#4caf50" stop-opacity="0.08"/></linearGradient><linearGradient id="rg" x1="0" y1="667.2" x2="0" y2="679.2" gradientUnits="userSpaceOnUse"><stop offset="0" stop-color="#f23645" stop-opacity="0.08"/><stop offset="1" stop-color="#f23645" stop-opacity="0.55"/></linearGradient><clipPath id="c70"><rect x="0" y="600" width="1400" height="33.00"/></clipPath><clipPath id="c30"><rect x="0" y="667.20" width="1400" height="40"/></clipPath></defs><path d="M5.6 641.6 L8.5 646.4 L11.4 650.8 L14.4 656.1 L17.3 656.2 L20.2 654.3 L23.1 655.9 L26.0 660.2 L28.9 658.1 L31.8 657.8 L34.8 662.2 L37.7 662.2 L40.6 653.6 L43.5 655.6 L46.4 654.5 L49.3 651.0 L52.2 653.7 L55.1 656.2 L58.1 658.6 L61.0 653.8 L63.9 656.8 L66.8 658.2 L69.7 645.6 L72.6 646.9 L75.5 640.5 L78.4 642.0 L81.4 635.1 L84.3 633.3 L87.2 633.0 L90.1 632.7 L93.0 634.3 L95.9 639.0 L98.8 640.7 L101.8 644.8 L104.7 641.9 L107.6 641.7 L110.5 640.6 L113.4 641.5 L116.3 645.1 L119.2 643.1 L122.1 639.3 L125.1 633.7 L128.0 635.4 L130.9 643.8 L133.8 643.2 L136.7 640.3 L139.6 639.7 L142.5 638.3 L145.4 643.6 L148.4 638.1 L151.3 639.0 L154.2 647.2 L157.1 643.8 L160.0 645.7 L162.9 640.2 L165.8 641.7 L168.8 646.5 L171.7 645.4 L174.6 642.5 L177.5 644.8 L180.4 642.6 L183.3 641.2 L186.2 638.4 L189.1 636.1 L192.1 642.4 L195.0 637.1 L197.9 636.1 L200.8 635.6 L203.7 636.3 L206.6 633.0 L209.5 630.2 L212.4 633.3 L215.4 635.2 L218.3 635.5 L221.2 631.2 L224.1 635.5 L227.0 633.4 L229.9 632.6 L232.8 631.8 L235.7 638.0 L238.7 638.6 L241.6 640.1 L244.5 638.8 L247.4 635.0 L250.3 645.7 L253.2 655.5 L256.1 654.5 L259.1 653.2 L262.0 652.8 L264.9 655.8 L267.8 654.8 L270.7 657.1 L273.6 655.3 L276.5 659.5 L279.4 657.5 L282.4 657.8 L285.3 656.8 L288.2 660.2 L291.1 661.6 L294.0 662.1 L296.9 664.5 L299.8 661.3 L302.7 658.2 L305.7 654.6 L308.6 655.2 L311.5 648.6 L314.4 651.5 L317.3 659.4 L320.2 656.1 L323.1 652.9 L326.1 644.6 L329.0 637.2 L331.9 640.1 L334.8 637.9 L337.7 637.2 L340.6 629.6 L343.5 632.3 L346.4 641.0 L349.4 637.3 L352.3 634.9 L355.2 638.4 L358.1 642.2 L361.0 639.9 L363.9 642.4 L366.8 639.9 L369.7 642.6 L372.7 640.5 L375.6 636.1 L378.5 636.1 L381.4 639.2 L384.3 644.4 L387.2 641.4 L390.1 638.3 L393.1 635.9 L396.0 646.3 L398.9 646.2 L401.8 644.6 L404.7 646.6 L407.6 645.0 L410.5 648.9 L413.4 647.9 L416.4 646.5 L419.3 648.2 L422.2 648.4 L425.1 647.8 L428.0 649.9 L430.9 643.0 L433.8 639.4 L436.7 637.8 L439.7 645.8 L442.6 644.7 L445.5 642.4 L448.4 644.3 L451.3 647.8 L454.2 650.2 L457.1 646.0 L460.0 652.9 L463.0 654.2 L465.9 658.0 L468.8 653.3 L471.7 654.7 L474.6 653.5 L477.5 656.8 L480.4 659.5 L483.4 657.7 L486.3 658.5 L489.2 653.5 L492.1 651.0 L495.0 650.4 L497.9 656.3 L500.8 652.7 L503.7 652.8 L506.7 657.3 L509.6 651.5 L512.5 652.9 L515.4 654.3 L518.3 656.1 L521.2 656.3 L524.1 651.3 L527.0 652.6 L530.0 653.6 L532.9 656.6 L535.8 657.7 L538.7 661.4 L541.6 658.6 L544.5 658.1 L547.4 660.5 L550.4 661.6 L553.3 659.9 L556.2 655.8 L559.1 653.1 L562.0 653.1 L564.9 657.8 L567.8 658.9 L570.7 653.1 L573.7 656.7 L576.6 650.8 L579.5 643.8 L582.4 642.8 L585.3 646.2 L588.2 646.0 L591.1 640.0 L594.0 640.8 L597.0 643.5 L599.9 645.9 L602.8 648.1 L605.7 645.1 L608.6 643.3 L611.5 652.0 L614.4 647.8 L617.4 646.3 L620.3 652.7 L623.2 654.6 L626.1 655.5 L629.0 650.7 L631.9 654.3 L634.8 656.4 L637.7 658.4 L640.7 659.0 L643.6 658.3 L646.5 660.1 L649.4 661.3 L652.3 663.7 L655.2 664.6 L658.1 662.2 L661.0 660.5 L664.0 660.0 L666.9 652.1 L669.8 651.6 L672.7 652.7 L675.6 649.9 L678.5 643.6 L681.4 642.3 L684.4 644.0 L687.3 640.0 L690.2 646.1 L693.1 650.8 L696.0 653.8 L698.9 652.6 L701.8 652.8 L704.7 651.6 L707.7 654.7 L710.6 656.8 L713.5 654.9 L716.4 649.5 L719.3 645.7 L722.2 647.0 L725.1 647.4 L728.0 650.3 L731.0 648.0 L733.9 654.2 L736.8 659.2 L739.7 666.3 L742.6 668.0 L745.5 671.3 L748.4 674.2 L751.3 674.8 L754.3 675.3 L757.2 675.4 L760.1 668.1 L763.0 656.3 L765.9 658.3 L768.8 651.5 L771.7 653.4 L774.7 639.0 L777.6 642.6 L780.5 641.8 L783.4 637.6 L786.3 633.6 L789.2 633.2 L792.1 637.8 L795.0 636.7 L798.0 634.6 L800.9 633.7 L803.8 631.9 L806.7 635.2 L809.6 640.0 L812.5 639.8 L815.4 637.9 L818.3 635.7 L821.3 644.0 L824.2 645.9 L827.1 650.7 L830.0 648.3 L832.9 653.3 L835.8 651.3 L838.7 647.3 L841.7 648.8 L844.6 643.8 L847.5 644.6 L850.4 647.8 L853.3 641.3 L856.2 644.2 L859.1 642.3 L862.0 641.5 L865.0 639.0 L867.9 634.9 L870.8 634.7 L873.7 637.4 L876.6 632.2 L879.5 643.3 L882.4 645.4 L885.3 643.5 L888.3 643.7 L891.2 649.4 L894.1 653.7 L897.0 654.3 L899.9 644.8 L902.8 643.5 L905.7 647.3 L908.7 645.6 L911.6 643.7 L914.5 646.2 L917.4 643.1 L920.3 639.3 L923.2 639.8 L926.1 638.5 L929.0 641.7 L932.0 642.6 L934.9 644.0 L937.8 648.1 L940.7 647.2 L943.6 646.9 L946.5 651.7 L949.4 651.1 L952.3 653.0 L955.3 650.9 L958.2 645.7 L961.1 644.4 L964.0 651.9 L966.9 656.7 L969.8 652.3 L972.7 650.6 L975.7 652.9 L978.6 650.4 L981.5 654.4 L984.4 650.8 L987.3 653.0 L990.2 649.1 L993.1 647.8 L996.0 647.5 L999.0 643.7 L1001.9 648.3 L1004.8 651.9 L1007.7 648.6 L1010.6 649.5 L1013.5 649.6 L1016.4 652.9 L1019.3 655.4 L1022.3 660.5 L1025.2 661.2 L1028.1 654.3 L1031.0 652.4 L1033.9 651.3 L1036.8 649.6 L1039.7 647.5 L1042.7 650.8 L1045.6 646.8 L1048.5 649.5 L1051.4 648.2 L1054.3 646.9 L1057.2 643.6 L1060.1 635.2 L1063.0 630.3 L1066.0 628.5 L1068.9 626.3 L1071.8 625.2 L1074.7 623.3 L1077.6 623.1 L1080.5 631.5 L1083.4 629.0 L1086.3 636.5 L1089.3 636.3 L1092.2 635.2 L1095.1 638.2 L1098.0 633.1 L1100.9 635.2 L1103.8 639.9 L1106.7 638.5 L1109.6 634.8 L1112.6 634.8 L1115.5 630.2 L1118.4 628.2 L1121.3 625.6 L1124.2 624.1 L1127.1 627.0 L1130.0 623.9 L1133.0 623.3 L1135.9 622.4 L1138.8 628.1 L1141.7 625.0 L1144.6 632.0 L1147.5 628.6 L1150.4 633.3 L1153.3 634.9 L1156.3 632.7 L1159.2 631.5 L1162.1 643.9 L1165.0 644.7 L1167.9 645.7 L1170.8 643.5 L1173.7 642.6 L1176.6 643.3 L1179.6 651.8 L1182.5 645.7 L1185.4 649.5 L1188.3 649.8 L1188.3 633.0 L5.6 633.0Z" fill="url(#gg)" clip-path="url(#c70)"/><path d="M5.6 641.6 L8.5 646.4 L11.4 650.8 L14.4 656.1 L17.3 656.2 L20.2 654.3 L23.1 655.9 L26.0 660.2 L28.9 658.1 L31.8 657.8 L34.8 662.2 L37.7 662.2 L40.6 653.6 L43.5 655.6 L46.4 654.5 L49.3 651.0 L52.2 653.7 L55.1 656.2 L58.1 658.6 L61.0 653.8 L63.9 656.8 L66.8 658.2 L69.7 645.6 L72.6 646.9 L75.5 640.5 L78.4 642.0 L81.4 635.1 L84.3 633.3 L87.2 633.0 L90.1 632.7 L93.0 634.3 L95.9 639.0 L98.8 640.7 L101.8 644.8 L104.7 641.9 L107.6 641.7 L110.5 640.6 L113.4 641.5 L116.3 645.1 L119.2 643.1 L122.1 639.3 L125.1 633.7 L128.0 635.4 L130.9 643.8 L133.8 643.2 L136.7 640.3 L139.6 639.7 L142.5 638.3 L145.4 643.6 L148.4 638.1 L151.3 639.0 L154.2 647.2 L157.1 643.8 L160.0 645.7 L162.9 640.2 L165.8 641.7 L168.8 646.5 L171.7 645.4 L174.6 642.5 L177.5 644.8 L180.4 642.6 L183.3 641.2 L186.2 638.4 L189.1 636.1 L192.1 642.4 L195.0 637.1 L197.9 636.1 L200.8 635.6 L203.7 636.3 L206.6 633.0 L209.5 630.2 L212.4 633.3 L215.4 635.2 L218.3 635.5 L221.2 631.2 L224.1 635.5 L227.0 633.4 L229.9 632.6 L232.8 631.8 L235.7 638.0 L238.7 638.6 L241.6 640.1 L244.5 638.8 L247.4 635.0 L250.3 645.7 L253.2 655.5 L256.1 654.5 L259.1 653.2 L262.0 652.8 L264.9 655.8 L267.8 654.8 L270.7 657.1 L273.6 655.3 L276.5 659.5 L279.4 657.5 L282.4 657.8 L285.3 656.8 L288.2 660.2 L291.1 661.6 L294.0 662.1 L296.9 664.5 L299.8 661.3 L302.7 658.2 L305.7 654.6 L308.6 655.2 L311.5 648.6 L314.4 651.5 L317.3 659.4 L320.2 656.1 L323.1 652.9 L326.1 644.6 L329.0 637.2 L331.9 640.1 L334.8 637.9 L337.7 637.2 L340.6 629.6 L343.5 632.3 L346.4 641.0 L349.4 637.3 L352.3 634.9 L355.2 638.4 L358.1 642.2 L361.0 639.9 L363.9 642.4 L366.8 639.9 L369.7 642.6 L372.7 640.5 L375.6 636.1 L378.5 636.1 L381.4 639.2 L384.3 644.4 L387.2 641.4 L390.1 638.3 L393.1 635.9 L396.0 646.3 L398.9 646.2 L401.8 644.6 L404.7 646.6 L407.6 645.0 L410.5 648.9 L413.4 647.9 L416.4 646.5 L419.3 648.2 L422.2 648.4 L425.1 647.8 L428.0 649.9 L430.9 643.0 L433.8 639.4 L436.7 637.8 L439.7 645.8 L442.6 644.7 L445.5 642.4 L448.4 644.3 L451.3 647.8 L454.2 650.2 L457.1 646.0 L460.0 652.9 L463.0 654.2 L465.9 658.0 L468.8 653.3 L471.7 654.7 L474.6 653.5 L477.5 656.8 L480.4 659.5 L483.4 657.7 L486.3 658.5 L489.2 653.5 L492.1 651.0 L495.0 650.4 L497.9 656.3 L500.8 652.7 L503.7 652.8 L506.7 657.3 L509.6 651.5 L512.5 652.9 L515.4 654.3 L518.3 656.1 L521.2 656.3 L524.1 651.3 L527.0 652.6 L530.0 653.6 L532.9 656.6 L535.8 657.7 L538.7 661.4 L541.6 658.6 L544.5 658.1 L547.4 660.5 L550.4 661.6 L553.3 659.9 L556.2 655.8 L559.1 653.1 L562.0 653.1 L564.9 657.8 L567.8 658.9 L570.7 653.1 L573.7 656.7 L576.6 650.8 L579.5 643.8 L582.4 642.8 L585.3 646.2 L588.2 646.0 L591.1 640.0 L594.0 640.8 L597.0 643.5 L599.9 645.9 L602.8 648.1 L605.7 645.1 L608.6 643.3 L611.5 652.0 L614.4 647.8 L617.4 646.3 L620.3 652.7 L623.2 654.6 L626.1 655.5 L629.0 650.7 L631.9 654.3 L634.8 656.4 L637.7 658.4 L640.7 659.0 L643.6 658.3 L646.5 660.1 L649.4 661.3 L652.3 663.7 L655.2 664.6 L658.1 662.2 L661.0 660.5 L664.0 660.0 L666.9 652.1 L669.8 651.6 L672.7 652.7 L675.6 649.9 L678.5 643.6 L681.4 642.3 L684.4 644.0 L687.3 640.0 L690.2 646.1 L693.1 650.8 L696.0 653.8 L698.9 652.6 L701.8 652.8 L704.7 651.6 L707.7 654.7 L710.6 656.8 L713.5 654.9 L716.4 649.5 L719.3 645.7 L722.2 647.0 L725.1 647.4 L728.0 650.3 L731.0 648.0 L733.9 654.2 L736.8 659.2 L739.7 666.3 L742.6 668.0 L745.5 671.3 L748.4 674.2 L751.3 674.8 L754.3 675.3 L757.2 675.4 L760.1 668.1 L763.0 656.3 L765.9 658.3 L768.8 651.5 L771.7 653.4 L774.7 639.0 L777.6 642.6 L780.5 641.8 L783.4 637.6 L786.3 633.6 L789.2 633.2 L792.1 637.8 L795.0 636.7 L798.0 634.6 L800.9 633.7 L803.8 631.9 L806.7 635.2 L809.6 640.0 L812.5 639.8 L815.4 637.9 L818.3 635.7 L821.3 644.0 L824.2 645.9 L827.1 650.7 L830.0 648.3 L832.9 653.3 L835.8 651.3 L838.7 647.3 L841.7 648.8 L844.6 643.8 L847.5 644.6 L850.4 647.8 L853.3 641.3 L856.2 644.2 L859.1 642.3 L862.0 641.5 L865.0 639.0 L867.9 634.9 L870.8 634.7 L873.7 637.4 L876.6 632.2 L879.5 643.3 L882.4 645.4 L885.3 643.5 L888.3 643.7 L891.2 649.4 L894.1 653.7 L897.0 654.3 L899.9 644.8 L902.8 643.5 L905.7 647.3 L908.7 645.6 L911.6 643.7 L914.5 646.2 L917.4 643.1 L920.3 639.3 L923.2 639.8 L926.1 638.5 L929.0 641.7 L932.0 642.6 L934.9 644.0 L937.8 648.1 L940.7 647.2 L943.6 646.9 L946.5 651.7 L949.4 651.1 L952.3 653.0 L955.3 650.9 L958.2 645.7 L961.1 644.4 L964.0 651.9 L966.9 656.7 L969.8 652.3 L972.7 650.6 L975.7 652.9 L978.6 650.4 L981.5 654.4 L984.4 650.8 L987.3 653.0 L990.2 649.1 L993.1 647.8 L996.0 647.5 L999.0 643.7 L1001.9 648.3 L1004.8 651.9 L1007.7 648.6 L1010.6 649.5 L1013.5 649.6 L1016.4 652.9 L1019.3 655.4 L1022.3 660.5 L1025.2 661.2 L1028.1 654.3 L1031.0 652.4 L1033.9 651.3 L1036.8 649.6 L1039.7 647.5 L1042.7 650.8 L1045.6 646.8 L1048.5 649.5 L1051.4 648.2 L1054.3 646.9 L1057.2 643.6 L1060.1 635.2 L1063.0 630.3 L1066.0 628.5 L1068.9 626.3 L1071.8 625.2 L1074.7 623.3 L1077.6 623.1 L1080.5 631.5 L1083.4 629.0 L1086.3 636.5 L1089.3 636.3 L1092.2 635.2 L1095.1 638.2 L1098.0 633.1 L1100.9 635.2 L1103.8 639.9 L1106.7 638.5 L1109.6 634.8 L1112.6 634.8 L1115.5 630.2 L1118.4 628.2 L1121.3 625.6 L1124.2 624.1 L1127.1 627.0 L1130.0 623.9 L1133.0 623.3 L1135.9 622.4 L1138.8 628.1 L1141.7 625.0 L1144.6 632.0 L1147.5 628.6 L1150.4 633.3 L1153.3 634.9 L1156.3 632.7 L1159.2 631.5 L1162.1 643.9 L1165.0 644.7 L1167.9 645.7 L1170.8 643.5 L1173.7 642.6 L1176.6 643.3 L1179.6 651.8 L1182.5 645.7 L1185.4 649.5 L1188.3 649.8 L1188.3 667.2 L5.6 667.2Z" fill="url(#rg)" clip-path="url(#c30)"/><path d="M5.6 641.6 L8.5 646.4 L11.4 650.8 L14.4 656.1 L17.3 656.2 L20.2 654.3 L23.1 655.9 L26.0 660.2 L28.9 658.1 L31.8 657.8 L34.8 662.2 L37.7 662.2 L40.6 653.6 L43.5 655.6 L46.4 654.5 L49.3 651.0 L52.2 653.7 L55.1 656.2 L58.1 658.6 L61.0 653.8 L63.9 656.8 L66.8 658.2 L69.7 645.6 L72.6 646.9 L75.5 640.5 L78.4 642.0 L81.4 635.1 L84.3 633.3 L87.2 633.0 L90.1 632.7 L93.0 634.3 L95.9 639.0 L98.8 640.7 L101.8 644.8 L104.7 641.9 L107.6 641.7 L110.5 640.6 L113.4 641.5 L116.3 645.1 L119.2 643.1 L122.1 639.3 L125.1 633.7 L128.0 635.4 L130.9 643.8 L133.8 643.2 L136.7 640.3 L139.6 639.7 L142.5 638.3 L145.4 643.6 L148.4 638.1 L151.3 639.0 L154.2 647.2 L157.1 643.8 L160.0 645.7 L162.9 640.2 L165.8 641.7 L168.8 646.5 L171.7 645.4 L174.6 642.5 L177.5 644.8 L180.4 642.6 L183.3 641.2 L186.2 638.4 L189.1 636.1 L192.1 642.4 L195.0 637.1 L197.9 636.1 L200.8 635.6 L203.7 636.3 L206.6 633.0 L209.5 630.2 L212.4 633.3 L215.4 635.2 L218.3 635.5 L221.2 631.2 L224.1 635.5 L227.0 633.4 L229.9 632.6 L232.8 631.8 L235.7 638.0 L238.7 638.6 L241.6 640.1 L244.5 638.8 L247.4 635.0 L250.3 645.7 L253.2 655.5 L256.1 654.5 L259.1 653.2 L262.0 652.8 L264.9 655.8 L267.8 654.8 L270.7 657.1 L273.6 655.3 L276.5 659.5 L279.4 657.5 L282.4 657.8 L285.3 656.8 L288.2 660.2 L291.1 661.6 L294.0 662.1 L296.9 664.5 L299.8 661.3 L302.7 658.2 L305.7 654.6 L308.6 655.2 L311.5 648.6 L314.4 651.5 L317.3 659.4 L320.2 656.1 L323.1 652.9 L326.1 644.6 L329.0 637.2 L331.9 640.1 L334.8 637.9 L337.7 637.2 L340.6 629.6 L343.5 632.3 L346.4 641.0 L349.4 637.3 L352.3 634.9 L355.2 638.4 L358.1 642.2 L361.0 639.9 L363.9 642.4 L366.8 639.9 L369.7 642.6 L372.7 640.5 L375.6 636.1 L378.5 636.1 L381.4 639.2 L384.3 644.4 L387.2 641.4 L390.1 638.3 L393.1 635.9 L396.0 646.3 L398.9 646.2 L401.8 644.6 L404.7 646.6 L407.6 645.0 L410.5 648.9 L413.4 647.9 L416.4 646.5 L419.3 648.2 L422.2 648.4 L425.1 647.8 L428.0 649.9 L430.9 643.0 L433.8 639.4 L436.7 637.8 L439.7 645.8 L442.6 644.7 L445.5 642.4 L448.4 644.3 L451.3 647.8 L454.2 650.2 L457.1 646.0 L460.0 652.9 L463.0 654.2 L465.9 658.0 L468.8 653.3 L471.7 654.7 L474.6 653.5 L477.5 656.8 L480.4 659.5 L483.4 657.7 L486.3 658.5 L489.2 653.5 L492.1 651.0 L495.0 650.4 L497.9 656.3 L500.8 652.7 L503.7 652.8 L506.7 657.3 L509.6 651.5 L512.5 652.9 L515.4 654.3 L518.3 656.1 L521.2 656.3 L524.1 651.3 L527.0 652.6 L530.0 653.6 L532.9 656.6 L535.8 657.7 L538.7 661.4 L541.6 658.6 L544.5 658.1 L547.4 660.5 L550.4 661.6 L553.3 659.9 L556.2 655.8 L559.1 653.1 L562.0 653.1 L564.9 657.8 L567.8 658.9 L570.7 653.1 L573.7 656.7 L576.6 650.8 L579.5 643.8 L582.4 642.8 L585.3 646.2 L588.2 646.0 L591.1 640.0 L594.0 640.8 L597.0 643.5 L599.9 645.9 L602.8 648.1 L605.7 645.1 L608.6 643.3 L611.5 652.0 L614.4 647.8 L617.4 646.3 L620.3 652.7 L623.2 654.6 L626.1 655.5 L629.0 650.7 L631.9 654.3 L634.8 656.4 L637.7 658.4 L640.7 659.0 L643.6 658.3 L646.5 660.1 L649.4 661.3 L652.3 663.7 L655.2 664.6 L658.1 662.2 L661.0 660.5 L664.0 660.0 L666.9 652.1 L669.8 651.6 L672.7 652.7 L675.6 649.9 L678.5 643.6 L681.4 642.3 L684.4 644.0 L687.3 640.0 L690.2 646.1 L693.1 650.8 L696.0 653.8 L698.9 652.6 L701.8 652.8 L704.7 651.6 L707.7 654.7 L710.6 656.8 L713.5 654.9 L716.4 649.5 L719.3 645.7 L722.2 647.0 L725.1 647.4 L728.0 650.3 L731.0 648.0 L733.9 654.2 L736.8 659.2 L739.7 666.3 L742.6 668.0 L745.5 671.3 L748.4 674.2 L751.3 674.8 L754.3 675.3 L757.2 675.4 L760.1 668.1 L763.0 656.3 L765.9 658.3 L768.8 651.5 L771.7 653.4 L774.7 639.0 L777.6 642.6 L780.5 641.8 L783.4 637.6 L786.3 633.6 L789.2 633.2 L792.1 637.8 L795.0 636.7 L798.0 634.6 L800.9 633.7 L803.8 631.9 L806.7 635.2 L809.6 640.0 L812.5 639.8 L815.4 637.9 L818.3 635.7 L821.3 644.0 L824.2 645.9 L827.1 650.7 L830.0 648.3 L832.9 653.3 L835.8 651.3 L838.7 647.3 L841.7 648.8 L844.6 643.8 L847.5 644.6 L850.4 647.8 L853.3 641.3 L856.2 644.2 L859.1 642.3 L862.0 641.5 L865.0 639.0 L867.9 634.9 L870.8 634.7 L873.7 637.4 L876.6 632.2 L879.5 643.3 L882.4 645.4 L885.3 643.5 L888.3 643.7 L891.2 649.4 L894.1 653.7 L897.0 654.3 L899.9 644.8 L902.8 643.5 L905.7 647.3 L908.7 645.6 L911.6 643.7 L914.5 646.2 L917.4 643.1 L920.3 639.3 L923.2 639.8 L926.1 638.5 L929.0 641.7 L932.0 642.6 L934.9 644.0 L937.8 648.1 L940.7 647.2 L943.6 646.9 L946.5 651.7 L949.4 651.1 L952.3 653.0 L955.3 650.9 L958.2 645.7 L961.1 644.4 L964.0 651.9 L966.9 656.7 L969.8 652.3 L972.7 650.6 L975.7 652.9 L978.6 650.4 L981.5 654.4 L984.4 650.8 L987.3 653.0 L990.2 649.1 L993.1 647.8 L996.0 647.5 L999.0 643.7 L1001.9 648.3 L1004.8 651.9 L1007.7 648.6 L1010.6 649.5 L1013.5 649.6 L1016.4 652.9 L1019.3 655.4 L1022.3 660.5 L1025.2 661.2 L1028.1 654.3 L1031.0 652.4 L1033.9 651.3 L1036.8 649.6 L1039.7 647.5 L1042.7 650.8 L1045.6 646.8 L1048.5 649.5 L1051.4 648.2 L1054.3 646.9 L1057.2 643.6 L1060.1 635.2 L1063.0 630.3 L1066.0 628.5 L1068.9 626.3 L1071.8 625.2 L1074.7 623.3 L1077.6 623.1 L1080.5 631.5 L1083.4 629.0 L1086.3 636.5 L1089.3 636.3 L1092.2 635.2 L1095.1 638.2 L1098.0 633.1 L1100.9 635.2 L1103.8 639.9 L1106.7 638.5 L1109.6 634.8 L1112.6 634.8 L1115.5 630.2 L1118.4 628.2 L1121.3 625.6 L1124.2 624.1 L1127.1 627.0 L1130.0 623.9 L1133.0 623.3 L1135.9 622.4 L1138.8 628.1 L1141.7 625.0 L1144.6 632.0 L1147.5 628.6 L1150.4 633.3 L1153.3 634.9 L1156.3 632.7 L1159.2 631.5 L1162.1 643.9 L1165.0 644.7 L1167.9 645.7 L1170.8 643.5 L1173.7 642.6 L1176.6 643.3 L1179.6 651.8 L1182.5 645.7 L1185.4 649.5 L1188.3 649.8" stroke="#8a5fd0" stroke-width="1" fill="none"/><path d="M5.6 657.3 L8.5 656.8 L11.4 656.3 L14.4 656.1 L17.3 655.7 L20.2 654.9 L23.1 654.2 L26.0 653.6 L28.9 652.7 L31.8 652.3 L34.8 652.7 L37.7 653.7 L40.6 654.0 L43.5 655.1 L46.4 656.0 L49.3 656.3 L52.2 656.5 L55.1 656.5 L58.1 656.7 L61.0 656.7 L63.9 656.7 L66.8 656.6 L69.7 655.7 L72.6 654.9 L75.5 653.4 L78.4 651.9 L81.4 650.6 L84.3 649.0 L87.2 647.5 L90.1 646.2 L93.0 644.8 L95.9 643.6 L98.8 642.3 L101.8 641.6 L104.7 640.6 L107.6 639.4 L110.5 639.0 L113.4 638.7 L116.3 639.0 L119.2 639.1 L122.1 639.4 L125.1 639.4 L128.0 639.6 L130.9 640.3 L133.8 641.0 L136.7 641.1 L139.6 641.0 L142.5 640.5 L145.4 640.7 L148.4 640.4 L151.3 640.3 L154.2 640.7 L157.1 640.6 L160.0 640.8 L162.9 640.9 L165.8 641.4 L168.8 642.2 L171.7 642.3 L174.6 642.3 L177.5 642.6 L180.4 642.8 L183.3 643.0 L186.2 642.6 L189.1 642.5 L192.1 642.7 L195.0 642.0 L197.9 641.5 L200.8 640.7 L203.7 640.5 L206.6 639.9 L209.5 638.7 L212.4 637.8 L215.4 637.3 L218.3 636.7 L221.2 635.8 L224.1 635.4 L227.0 635.1 L229.9 634.8 L232.8 634.1 L235.7 634.1 L238.7 634.3 L241.6 634.6 L244.5 634.8 L247.4 635.0 L250.3 636.1 L253.2 637.6 L256.1 639.0 L259.1 640.3 L262.0 641.8 L264.9 643.3 L267.8 644.8 L270.7 646.6 L273.6 648.2 L276.5 649.8 L279.4 651.1 L282.4 652.4 L285.3 653.7 L288.2 655.5 L291.1 656.6 L294.0 657.1 L296.9 657.8 L299.8 658.4 L302.7 658.7 L305.7 658.7 L308.6 658.7 L311.5 658.1 L314.4 657.8 L317.3 657.8 L320.2 657.7 L323.1 657.3 L326.1 656.5 L329.0 654.8 L331.9 653.3 L334.8 651.6 L337.7 649.6 L340.6 647.4 L343.5 645.5 L346.4 644.5 L349.4 643.3 L352.3 642.3 L355.2 641.3 L358.1 640.1 L361.0 639.0 L363.9 638.2 L366.8 637.9 L369.7 638.3 L372.7 638.3 L375.6 638.2 L378.5 638.1 L381.4 638.8 L384.3 639.6 L387.2 639.7 L390.1 639.7 L393.1 639.8 L396.0 640.4 L398.9 640.6 L401.8 641.0 L404.7 641.3 L407.6 641.6 L410.5 642.1 L413.4 642.6 L416.4 643.4 L419.3 644.2 L422.2 644.9 L425.1 645.1 L428.0 645.7 L430.9 646.1 L433.8 646.3 L436.7 645.7 L439.7 645.7 L442.6 645.7 L445.5 645.4 L448.4 645.4 L451.3 645.3 L454.2 645.4 L457.1 645.4 L460.0 645.7 L463.0 646.2 L465.9 646.9 L468.8 647.1 L471.7 648.0 L474.6 649.0 L477.5 650.3 L480.4 651.3 L483.4 652.2 L486.3 653.4 L489.2 654.0 L492.1 654.3 L495.0 654.3 L497.9 655.0 L500.8 655.0 L503.7 654.9 L506.7 654.9 L509.6 654.7 L512.5 654.6 L515.4 654.7 L518.3 654.6 L521.2 654.4 L524.1 653.9 L527.0 653.5 L530.0 653.5 L532.9 653.9 L535.8 654.4 L538.7 654.8 L541.6 655.2 L544.5 655.6 L547.4 655.8 L550.4 656.5 L553.3 657.0 L556.2 657.1 L559.1 656.9 L562.0 656.7 L564.9 657.2 L567.8 657.6 L570.7 657.6 L573.7 657.6 L576.6 657.1 L579.5 655.8 L582.4 654.7 L585.3 653.9 L588.2 652.8 L591.1 651.3 L594.0 649.9 L597.0 649.0 L599.9 648.5 L602.8 648.2 L605.7 647.3 L608.6 646.2 L611.5 646.1 L614.4 645.4 L617.4 645.1 L620.3 645.7 L623.2 646.6 L626.1 647.3 L629.0 647.6 L631.9 648.6 L634.8 649.7 L637.7 650.8 L640.7 651.7 L643.6 652.5 L646.5 653.5 L649.4 654.8 L652.3 655.6 L655.2 656.8 L658.1 658.0 L661.0 658.5 L664.0 658.9 L666.9 658.7 L669.8 658.7 L672.7 658.6 L675.6 658.2 L678.5 657.1 L681.4 655.9 L684.4 654.9 L687.3 653.5 L690.2 652.4 L693.1 651.5 L696.0 650.7 L698.9 650.0 L701.8 649.4 L704.7 648.8 L707.7 649.0 L710.6 649.4 L713.5 649.6 L716.4 649.5 L719.3 649.7 L722.2 650.0 L725.1 650.3 L728.0 651.0 L731.0 651.1 L733.9 651.4 L736.8 651.8 L739.7 652.7 L742.6 653.8 L745.5 655.2 L748.4 656.6 L751.3 657.9 L754.3 659.4 L757.2 661.2 L760.1 662.8 L763.0 663.5 L765.9 664.3 L768.8 664.3 L771.7 664.7 L774.7 663.7 L777.6 662.5 L780.5 660.7 L783.4 658.6 L786.3 655.9 L789.2 652.9 L792.1 650.3 L795.0 647.5 L798.0 644.6 L800.9 642.2 L803.8 640.4 L806.7 638.8 L809.6 637.9 L812.5 637.0 L815.4 636.9 L818.3 636.4 L821.3 636.6 L824.2 637.1 L827.1 638.4 L830.0 639.4 L832.9 640.6 L835.8 641.6 L838.7 642.5 L841.7 643.6 L844.6 644.4 L847.5 645.1 L850.4 645.7 L853.3 645.8 L856.2 646.2 L859.1 646.7 L862.0 646.5 L865.0 646.0 L867.9 644.9 L870.8 643.9 L873.7 642.8 L876.6 641.4 L879.5 641.1 L882.4 640.9 L885.3 640.9 L888.3 640.8 L891.2 640.9 L894.1 641.8 L897.0 642.5 L899.9 642.7 L902.8 642.8 L905.7 643.4 L908.7 644.2 L911.6 644.8 L914.5 645.5 L917.4 646.2 L920.3 646.0 L923.2 645.6 L926.1 645.2 L929.0 645.1 L932.0 644.6 L934.9 643.9 L937.8 643.4 L940.7 643.6 L943.6 643.8 L946.5 644.2 L949.4 644.6 L952.3 645.2 L955.3 645.6 L958.2 645.7 L961.1 646.1 L964.0 647.0 L966.9 648.3 L969.8 649.0 L972.7 649.6 L975.7 650.3 L978.6 650.4 L981.5 650.9 L984.4 651.2 L987.3 651.3 L990.2 651.2 L993.1 650.8 L996.0 650.5 L999.0 650.4 L1001.9 650.7 L1004.8 650.7 L1007.7 650.1 L1010.6 649.9 L1013.5 649.8 L1016.4 649.8 L1019.3 650.2 L1022.3 650.6 L1025.2 651.4 L1028.1 651.4 L1031.0 651.7 L1033.9 651.9 L1036.8 652.1 L1039.7 652.4 L1042.7 652.5 L1045.6 652.2 L1048.5 652.2 L1051.4 652.1 L1054.3 651.9 L1057.2 651.3 L1060.1 649.8 L1063.0 647.7 L1066.0 645.3 L1068.9 643.3 L1071.8 641.4 L1074.7 639.4 L1077.6 637.5 L1080.5 636.4 L1083.4 634.8 L1086.3 634.1 L1089.3 633.1 L1092.2 632.2 L1095.1 631.6 L1098.0 630.8 L1100.9 630.8 L1103.8 631.5 L1106.7 632.2 L1109.6 632.8 L1112.6 633.5 L1115.5 634.0 L1118.4 634.4 L1121.3 634.0 L1124.2 633.6 L1127.1 632.9 L1130.0 632.0 L1133.0 631.2 L1135.9 630.1 L1138.8 629.7 L1141.7 629.0 L1144.6 628.4 L1147.5 627.7 L1150.4 627.6 L1153.3 627.6 L1156.3 627.8 L1159.2 628.0 L1162.1 629.3 L1165.0 630.8 L1167.9 632.1 L1170.8 633.5 L1173.7 634.9 L1176.6 636.4 L1179.6 638.1 L1182.5 639.6 L1185.4 640.8 L1188.3 642.3" stroke="#ecd92e" stroke-width="1.05" fill="none"/>
</g>
<text x="1369.3" y="628.8" font-size="11" fill="#b2b5be" textLength="26" lengthAdjust="spacingAndGlyphs">80.00</text>
<text x="1369.3" y="663.4" font-size="11" fill="#b2b5be" textLength="26" lengthAdjust="spacingAndGlyphs">40.00</text>
<line x1="9" y1="612.5" x2="1420" y2="612.5" stroke="#2a2e39" stroke-width="1"/>
<text x="70.2" y="699.6" font-size="11" fill="#b2b5be" textLength="4.6" lengthAdjust="spacingAndGlyphs">7</text>
<text x="174.2" y="699.6" font-size="11" fill="#d1d4dc" font-weight="bold" textLength="24.6" lengthAdjust="spacingAndGlyphs">2023</text>
<text x="296.8" y="699.6" font-size="11" fill="#b2b5be" textLength="17.6" lengthAdjust="spacingAndGlyphs">Mar</text>
<text x="418.9" y="699.6" font-size="11" fill="#b2b5be" textLength="18.2" lengthAdjust="spacingAndGlyphs">May</text>
<text x="552.4" y="699.6" font-size="11" fill="#b2b5be" textLength="13.8" lengthAdjust="spacingAndGlyphs">Jul</text>
<text x="678.2" y="699.6" font-size="11" fill="#b2b5be" textLength="17.5" lengthAdjust="spacingAndGlyphs">Sep</text>
<text x="803.6" y="699.6" font-size="11" fill="#b2b5be" textLength="18" lengthAdjust="spacingAndGlyphs">Nov</text>
<text x="922.5" y="699.6" font-size="11" fill="#d1d4dc" font-weight="bold" textLength="24.9" lengthAdjust="spacingAndGlyphs">2024</text>
<text x="1050.7" y="699.6" font-size="11" fill="#b2b5be" textLength="18.2" lengthAdjust="spacingAndGlyphs">Mar</text>
<text x="1173.4" y="699.6" font-size="11" fill="#b2b5be" textLength="18.2" lengthAdjust="spacingAndGlyphs">May</text>
<text x="1300.1" y="699.6" font-size="11" fill="#b2b5be" textLength="13.8" lengthAdjust="spacingAndGlyphs">Jul</text>
<text x="8.6" y="16.8" font-size="11" fill="#d1d4dc" font-weight="bold" class="hd" textLength="331.5" lengthAdjust="spacingAndGlyphs">dacolmanfx published on TradingView.com, May 04, 2024 09:11 UTC-4</text>
<text x="15.8" y="40.7" font-size="11" fill="#d1d4dc" textLength="166.6" lengthAdjust="spacingAndGlyphs">Gold Spot / U.S. Dollar, 1D, OANDA</text>
<text x="188.2" y="40.7" font-size="11" fill="#d1d4dc">O</text>
<text x="195.8" y="40.7" font-size="11" fill="#ef5350" textLength="42.8" lengthAdjust="spacingAndGlyphs">2303.800</text>
<text x="244.7" y="40.7" font-size="11" fill="#d1d4dc">H</text>
<text x="251.4" y="40.7" font-size="11" fill="#ef5350" textLength="42.8" lengthAdjust="spacingAndGlyphs">2320.705</text>
<text x="300.6" y="40.7" font-size="11" fill="#d1d4dc">L</text>
<text x="306.2" y="40.7" font-size="11" fill="#ef5350" textLength="42.6" lengthAdjust="spacingAndGlyphs">2277.345</text>
<text x="354.5" y="40.7" font-size="11" fill="#d1d4dc">C</text>
<text x="361.3" y="40.7" font-size="11" fill="#ef5350" textLength="42.5" lengthAdjust="spacingAndGlyphs">2301.810</text>
<text x="410.3" y="40.7" font-size="11" fill="#ef5350" textLength="31.3" lengthAdjust="spacingAndGlyphs">−1.990</text>
<text x="445.3" y="40.7" font-size="11" fill="#ef5350" textLength="39.5" lengthAdjust="spacingAndGlyphs">(−0.09%)</text>
<text x="28.8" y="727.7" font-size="12" fill="#d1d4dc" font-weight="bold" textLength="63" lengthAdjust="spacingAndGlyphs">TradingView</text>
</svg>
<svg style="position:absolute;left:9px;top:718px" width="18" height="10" viewBox="0 0 18 10"><path d="M0 0H7V9H3.2V3.6H0Z" fill="#d1d4dc"/><circle cx="9.3" cy="2.4" r="1.3" fill="#d1d4dc"/><path d="M12 0.3H17.2L13.6 9H8.8Z" fill="#d1d4dc"/></svg>
<div class="wm ws">海马财经</div><div class="wm">海马财经</div>
<svg style="position:absolute;left:0;top:0" width="1429" height="739"><text x="1194.2" y="735.4" font-family="Liberation Sans" font-weight="bold" font-style="italic" font-size="32.5" fill="#15286e" textLength="22.5" lengthAdjust="spacingAndGlyphs">z</text><text x="1220.8" y="735.4" font-family="Liberation Sans" font-weight="bold" font-style="italic" font-size="32.5" fill="#15286e" textLength="22.8" lengthAdjust="spacingAndGlyphs">z</text><text x="1249.0" y="735.4" font-family="Liberation Sans" font-weight="bold" font-style="italic" font-size="32.5" fill="#15286e" textLength="19.5" lengthAdjust="spacingAndGlyphs">r</text><text x="1274.0" y="735.4" font-family="Liberation Sans" font-weight="bold" font-style="italic" font-size="32.5" fill="#15286e" textLength="16.1" lengthAdjust="spacingAndGlyphs">t</text><text x="1294.0" y="735.4" font-family="Liberation Sans" font-weight="bold" font-style="italic" font-size="32.5" fill="#15286e" textLength="24.5" lengthAdjust="spacingAndGlyphs">0</text><text x="1321.0" y="735.4" font-family="Liberation Sans" font-weight="bold" font-style="italic" font-size="32.5" fill="#15286e" textLength="21.5" lengthAdjust="spacingAndGlyphs">1</text><text x="1351.6" y="735.4" font-family="Liberation Sans" font-weight="bold" font-style="italic" font-size="32.5" fill="#15286e" textLength="10.3" lengthAdjust="spacingAndGlyphs">.</text><text x="1371.6" y="735.4" font-family="Liberation Sans" font-weight="bold" font-style="italic" font-size="32.5" fill="#15286e" textLength="22.6" lengthAdjust="spacingAndGlyphs">c</text><text x="1396.0" y="735.4" font-family="Liberation Sans" font-weight="bold" font-style="italic" font-size="32.5" fill="#15286e" textLength="23.5" lengthAdjust="spacingAndGlyphs">n</text><text x="1193.0" y="734.2" font-family="Liberation Sans" font-weight="bold" font-style="italic" font-size="32.5" fill="#2142a8" textLength="22.5" lengthAdjust="spacingAndGlyphs">z</text><text x="1219.6" y="734.2" font-family="Liberation Sans" font-weight="bold" font-style="italic" font-size="32.5" fill="#2142a8" textLength="22.8" lengthAdjust="spacingAndGlyphs">z</text><text x="1247.8" y="734.2" font-family="Liberation Sans" font-weight="bold" font-style="italic" font-size="32.5" fill="#2142a8" textLength="19.5" lengthAdjust="spacingAndGlyphs">r</text><text x="1272.8" y="734.2" font-family="Liberation Sans" font-weight="bold" font-style="italic" font-size="32.5" fill="#2142a8" textLength="16.1" lengthAdjust="spacingAndGlyphs">t</text><text x="1292.8" y="734.2" font-family="Liberation Sans" font-weight="bold" font-style="italic" font-size="32.5" fill="#2142a8" textLength="24.5" lengthAdjust="spacingAndGlyphs">0</text><text x="1319.8" y="734.2" font-family="Liberation Sans" font-weight="bold" font-style="italic" font-size="32.5" fill="#2142a8" textLength="21.5" lengthAdjust="spacingAndGlyphs">1</text><text x="1350.4" y="734.2" font-family="Liberation Sans" font-weight="bold" font-style="italic" font-size="32.5" fill="#2142a8" textLength="10.3" lengthAdjust="spacingAndGlyphs">.</text><text x="1370.4" y="734.2" font-family="Liberation Sans" font-weight="bold" font-style="italic" font-size="32.5" fill="#2142a8" textLength="22.6" lengthAdjust="spacingAndGlyphs">c</text><text x="1394.8" y="734.2" font-family="Liberation Sans" font-weight="bold" font-style="italic" font-size="32.5" fill="#2142a8" textLength="23.5" lengthAdjust="spacingAndGlyphs">n</text><text x="1369.3" y="663.4" font-size="11" fill="#d0d2d8" textLength="26" lengthAdjust="spacingAndGlyphs">40.00</text><text x="1173.4" y="699.6" font-size="11" fill="#c8cad0" textLength="18.2" lengthAdjust="spacingAndGlyphs">May</text><text x="1300.1" y="699.6" font-size="11" fill="#c8cad0" textLength="13.8" lengthAdjust="spacingAndGlyphs">Jul</text></svg>
</body></html>
